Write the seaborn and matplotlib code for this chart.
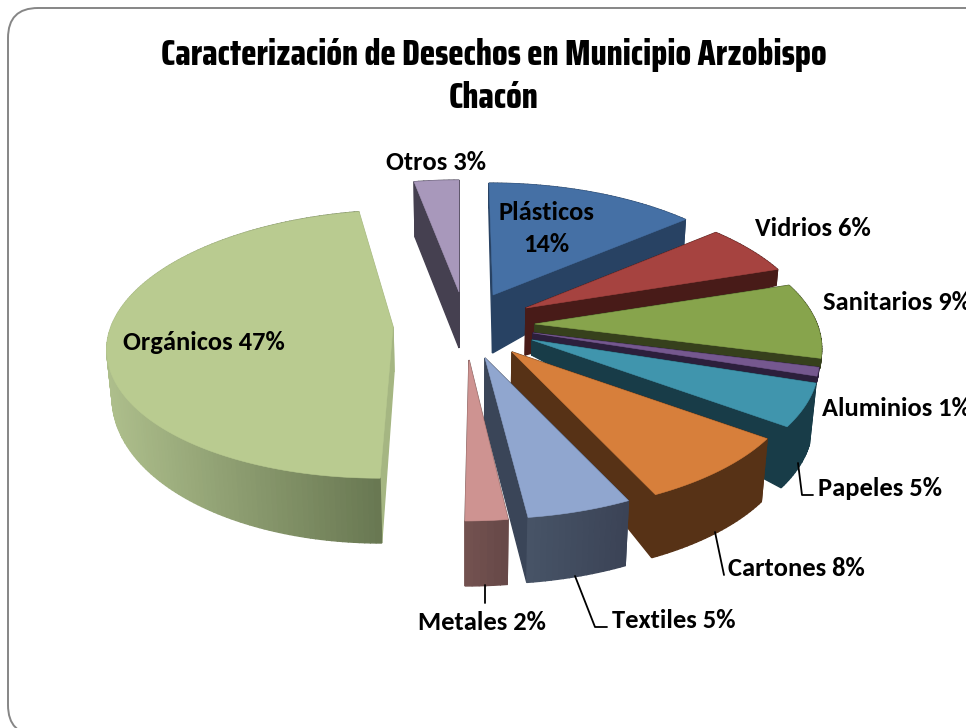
import numpy as np
import seaborn as sns
import matplotlib.pyplot as plt
from matplotlib import font_manager
from matplotlib.colors import to_rgb
from matplotlib.patches import FancyBboxPatch, Polygon

sns.set_theme(style="white")

categories = ['Plásticos', 'Vidrios', 'Sanitarios', 'Aluminios', 'Papeles',
              'Cartones', 'Textiles', 'Metales', 'Orgánicos', 'Otros']
values = [14, 6, 9, 1, 5, 8, 5, 2, 47, 3]

# colours of each slice: top, wall on the left, wall on the right, cut faces
top_colors = ['#4570a5', '#a64340', '#87a44c', '#75588f', '#4095ad',
              '#d77f3b', '#90a6cf', '#ce9391', '#b9cb90', '#a898bb']
wall_left = ['#284263', '#481b18', '#36401c', '#2c1f3c', '#183c48',
             '#573216', '#4c5a6e', '#735250', '#aebf8c', '#454050']
wall_right = ['#284263', '#481b18', '#36401c', '#2c1f3c', '#183c48',
              '#573216', '#3b4356', '#664847', '#65744f', '#454050']
cut_colors = ['#284263', '#481b18', '#36401c', '#2c1f3c', '#183c48',
              '#573216', '#3a4558', '#735250', '#a5b682', '#454050']

# where each exploded slice sits, in pixels, and how tall its wall is
apex_x = [493, 526, 535, 533, 532, 512, 485, 469, 393, 459]
apex_y = [295, 308, 324, 333, 340, 352, 358, 360, 327, 292]
depth_in = [58, 47, 9, 7, 15, 31, 62, 65, 45, 56]
depth_out = [25, 16, 10, 7, 61, 63, 65, 65, 45, 55]
depth_tilt = [0, 0, 0, 0, 0, 0, 0, 0, 0.44, 0]
persp = [0.18, 0.18, 0.18, 0.18, 0.18, 0.18, 0.18, 0.18, 0.127, 0.18]
shear = [-4, -8, 0, 0, 0, 0, 0, 4, 13, 0]
rx, ry = 282, 132

installed = {f.name for f in font_manager.fontManager.ttflist}
title_font = 'Liberation Sans'
for name in ['Saira Extra Condensed', 'Saira Condensed', 'Big Shoulders Display', 'Oswald', 'Barlow Condensed']:
    if name in installed:
        title_font = name
        break
label_font = 'Carlito' if 'Carlito' in installed else 'Lato'
plt.rcParams['font.family'] = [label_font, 'DejaVu Sans']

fig = plt.figure(figsize=(9.66, 7.28), dpi=100)
ax = fig.add_axes([0, 0, 1, 1])

# the pie gives the angles of the slices, the 3d look is drawn from them
wedges, _ = ax.pie(values, startangle=90, counterclock=False, frame=True)
geometry = [(w.theta1, w.theta2) for w in wedges]
for w in wedges:
    w.remove()
ax.set_aspect('auto')
ax.set_xlim(0, 966)
ax.set_ylim(728, 0)
ax.axis('off')

ax.add_patch(FancyBboxPatch((8, 8), 1040, 727, boxstyle='round,pad=0,rounding_size=30',
                            fc='white', ec='#868686', lw=1.4, zorder=0))


def project(i, x, y):
    s = 1 / (1 + persp[i] * y)
    return apex_x[i] + rx * x * s + shear[i] * y, apex_y[i] - ry * y * s


def drop(i, x, y, sx, sy):
    # how far the lower edge of the wall lies below the top face
    r = np.hypot(x, y)
    d = (depth_in[i] + (depth_out[i] - depth_in[i]) * r) * (1 - depth_tilt[i] * y)
    return sx - (sx - 465) * 0.02 * d / 65, sy + d


def mix(c1, c2, f):
    return tuple(np.array(to_rgb(c1)) * (1 - f) + np.array(to_rgb(c2)) * f)


order = sorted(range(len(values)),
               key=lambda i: -np.sin(np.radians(sum(geometry[i]) / 2)))

for z, i in enumerate(order):
    t1, t2 = geometry[i]
    t = np.radians(np.linspace(t1, t2, max(6, int(t2 - t1))))
    xs = np.concatenate([[0], np.cos(t)])
    ys = np.concatenate([[0], np.sin(t)])
    px, py = project(i, xs, ys)
    bx, by = drop(i, xs, ys, px, py)
    n = len(xs)
    quads = []
    for a in range(n):
        b = (a + 1) % n
        quad = [(px[a], py[a]), (px[b], py[b]), (bx[b], by[b]), (bx[a], by[a])]
        if a == 0 or b == 0:
            color = cut_colors[i]
        else:
            f = ((px[a] + px[b]) / 2 - px.min()) / (px.max() - px.min())
            color = mix(wall_left[i], wall_right[i], f)
        quads.append((np.mean([q[1] for q in quad]), quad, color))
    quads.sort(key=lambda q: q[0])
    for _, quad, color in quads:
        ax.add_patch(Polygon(quad, closed=True, fc=color, ec=color, lw=1.0, zorder=2 + z))
    ax.add_patch(Polygon(np.column_stack([px, py]), closed=True, fc=top_colors[i],
                         ec=top_colors[i], lw=0.4, zorder=2 + z))

# leader lines
leaders = [([798, 802, 813], [463, 495, 495]),
           ([715, 724], [532, 575]),
           ([575, 595, 607], [576, 627, 627]),
           ([485, 485], [585, 603])]
for lx, ly in leaders:
    ax.plot(lx, ly, color='black', lw=1.3, zorder=30)

t1 = ax.text(494, 55, 'Caracterización de Desechos en Municipio Arzobispo', family=title_font,
             fontweight=800, fontsize=29, ha='center', va='center', color='black', zorder=40)
t2 = ax.text(494, 98, 'Chacón', family=title_font, fontweight=800, fontsize=29,
             ha='center', va='center', color='black', zorder=40)
# fit the title to the width it has in the reference
width = t1.get_window_extent(fig.canvas.get_renderer()).width
t1.set_fontsize(29 * 667 / width)
t2.set_fontsize(29 * 667 / width)

label_pos = {'Otros 3%': (386, 162), 'Vidrios 6%': (755, 228), 'Sanitarios 9%': (823, 303),
             'Aluminios 1%': (822, 408), 'Papeles 5%': (818, 488), 'Cartones 8%': (728, 568),
             'Textiles 5%': (612, 620), 'Metales 2%': (418, 623), 'Orgánicos 47%': (123, 342)}
size = 19.1 if label_font == 'Carlito' else 17
for name, (lx, ly) in label_pos.items():
    ax.text(lx, ly, name, fontsize=size, fontweight='bold', ha='left', va='center',
            color='black', zorder=40)
ax.text(546, 212, 'Plásticos', fontsize=size, fontweight='bold', ha='center', va='center',
        color='black', zorder=40)
ax.text(546, 245, '14%', fontsize=size, fontweight='bold', ha='center', va='center',
        color='black', zorder=40)

fig.savefig('out.png', dpi=100)
